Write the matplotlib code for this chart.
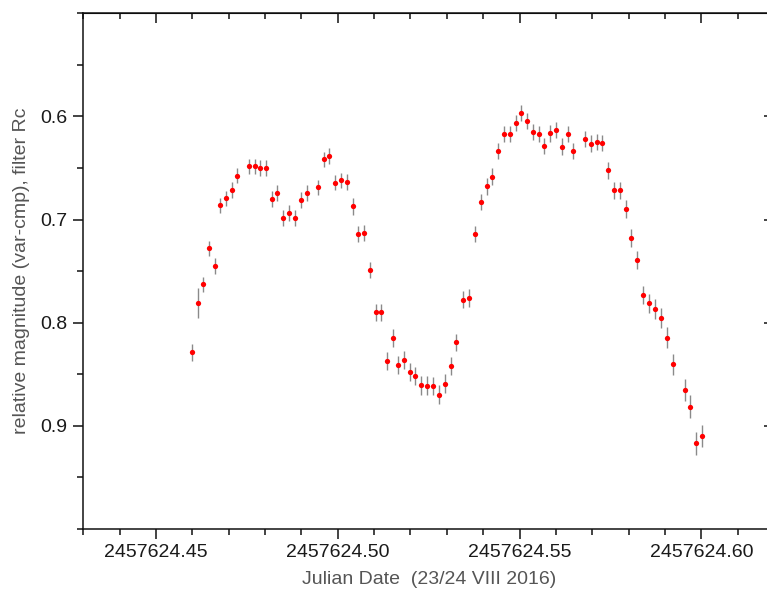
import matplotlib
matplotlib.use("Agg")
import matplotlib.pyplot as plt
from matplotlib.ticker import MultipleLocator, FormatStrFormatter
import numpy as np

plt.rcParams['font.family'] = ['Liberation Sans', 'DejaVu Sans']

JD0 = 2457624.0
jd_frac = [0.4600, 0.4615, 0.4630, 0.4647, 0.4662, 0.4677, 0.4693, 0.4708, 0.4724,
           0.4756, 0.4771, 0.4787, 0.4802, 0.4819, 0.4834, 0.4850, 0.4866, 0.4882,
           0.4898, 0.4914, 0.4945, 0.4961, 0.4977, 0.4993, 0.5009, 0.5025, 0.5041,
           0.5056, 0.5073, 0.5088, 0.5104, 0.5120, 0.5136, 0.5151, 0.5167, 0.5182,
           0.5198, 0.5213, 0.5230, 0.5246, 0.5263, 0.5279, 0.5295, 0.5311, 0.5326,
           0.5344, 0.5361, 0.5377, 0.5393, 0.5410, 0.5425, 0.5441, 0.5457, 0.5473,
           0.5489, 0.5504, 0.5521, 0.5536, 0.5553, 0.5568, 0.5584, 0.5599, 0.5616,
           0.5632, 0.5648, 0.5681, 0.5697, 0.5713, 0.5728, 0.5744, 0.5760, 0.5776,
           0.5793, 0.5808, 0.5823, 0.5840, 0.5856, 0.5873, 0.5889, 0.5906, 0.5923,
           0.5954, 0.5970, 0.5986, 0.6002]
mag = [0.8288, 0.7807, 0.7629, 0.7279, 0.7447, 0.6863, 0.6795, 0.6711, 0.6574,
       0.6483, 0.6483, 0.6500, 0.6500, 0.6801, 0.6746, 0.6983, 0.6935, 0.6983,
       0.6814, 0.6743, 0.6688, 0.6415, 0.6383, 0.6642, 0.6620, 0.6636, 0.6873,
       0.7142, 0.7128, 0.7490, 0.7900, 0.7900, 0.8369, 0.8148, 0.8408, 0.8359,
       0.8479, 0.8515, 0.8606, 0.8609, 0.8613, 0.8697, 0.8590, 0.8418, 0.8191,
       0.7775, 0.7762, 0.7139, 0.6831, 0.6678, 0.6584, 0.6337, 0.6168, 0.6168,
       0.6068, 0.5967, 0.6042, 0.6152, 0.6171, 0.6285, 0.6165, 0.6133, 0.6295,
       0.6168, 0.6337, 0.6217, 0.6263, 0.6246, 0.6259, 0.6522, 0.6717, 0.6717,
       0.6899, 0.7181, 0.7395, 0.7733, 0.7811, 0.7869, 0.7953, 0.8145, 0.8401,
       0.8651, 0.8814, 0.9168, 0.9096]
mag_err = [0.0080, 0.0148, 0.0075, 0.0076, 0.0076, 0.0073, 0.0073, 0.0078, 0.0075,
           0.0075, 0.0075, 0.0073, 0.0073, 0.0078, 0.0078, 0.0078, 0.0078, 0.0078,
           0.0078, 0.0078, 0.0073, 0.0075, 0.0075, 0.0075, 0.0075, 0.0075, 0.0078,
           0.0080, 0.0080, 0.0080, 0.0085, 0.0085, 0.0085, 0.0085, 0.0085, 0.0085,
           0.0085, 0.0085, 0.0090, 0.0090, 0.0090, 0.0090, 0.0090, 0.0085, 0.0085,
           0.0085, 0.0085, 0.0080, 0.0080, 0.0080, 0.0080, 0.0078, 0.0078, 0.0078,
           0.0078, 0.0080, 0.0080, 0.0080, 0.0080, 0.0080, 0.0080, 0.0078, 0.0082,
           0.0080, 0.0080, 0.0080, 0.0080, 0.0080, 0.0080, 0.0085, 0.0085, 0.0085,
           0.0087, 0.0087, 0.0087, 0.0090, 0.0092, 0.0097, 0.0094, 0.0102, 0.0102,
           0.0105, 0.0110, 0.0112, 0.0107]

x_ticks = [2457624.45, 2457624.50, 2457624.55, 2457624.60]
y_ticks = [0.6, 0.7, 0.8, 0.9]

jd = JD0 + np.array(jd_frac)

W, H = 767, 603
fig = plt.figure(figsize=(W / 100, H / 100), dpi=100)
L, R, T, B = 83.3, 774.0, 13.3, 529.0
ax = fig.add_axes([L / W, (H - B) / H, (R - L) / W, (B - T) / H])

ax.errorbar(jd, mag, yerr=mag_err, fmt='o', color='#ff0000', markersize=3.8,
            markeredgewidth=0, ecolor='#8a8a8a', elinewidth=1.0, capsize=2.6,
            capthick=1.0, zorder=3)

ax.set_xlim(2457624.43, 2457624.62)
ax.set_ylim(1.0, 0.5)

ax.set_xticks(x_ticks)
ax.xaxis.set_major_formatter(FormatStrFormatter('%.2f'))
ax.xaxis.set_minor_locator(MultipleLocator(0.01))
ax.set_yticks(y_ticks)
ax.yaxis.set_major_formatter(FormatStrFormatter('%.1f'))
ax.yaxis.set_minor_locator(MultipleLocator(0.05))

for s in ax.spines.values():
    s.set_linewidth(1.1)
    s.set_color('#111111')

ax.tick_params(axis='x', which='both', bottom=True, top=False, direction='out',
               labelsize=14, labelcolor='#1a1a1a', pad=3.5, width=1.1, color='#111111')
ax.tick_params(axis='y', which='both', left=True, right=False, direction='out',
               labelsize=14, labelcolor='#1a1a1a', pad=4.3, width=1.1, color='#111111')
ax.tick_params(which='major', length=7.5)
ax.tick_params(which='minor', length=4)

# inward ticks on top and right
secx = ax.secondary_xaxis('top')
secx.set_xticks(x_ticks)
secx.xaxis.set_minor_locator(MultipleLocator(0.01))
secx.tick_params(which='both', direction='in', labeltop=False, width=1.1, color='#111111')
secx.tick_params(which='major', length=7.5)
secx.tick_params(which='minor', length=4)
secy = ax.secondary_yaxis('right')
secy.set_yticks(y_ticks)
secy.yaxis.set_minor_locator(MultipleLocator(0.05))
secy.tick_params(which='both', direction='in', labelright=False, width=1.1, color='#111111')
secy.tick_params(which='major', length=7.5)
secy.tick_params(which='minor', length=4)

ax.set_xlabel('Julian Date  (23/24 VIII 2016)', fontsize=14, color='#555555', labelpad=7)
ax.set_ylabel('relative magnitude (var-cmp), filter Rc', fontsize=14, color='#555555', labelpad=7)

fig.savefig('out.png', dpi=100, facecolor='white')
